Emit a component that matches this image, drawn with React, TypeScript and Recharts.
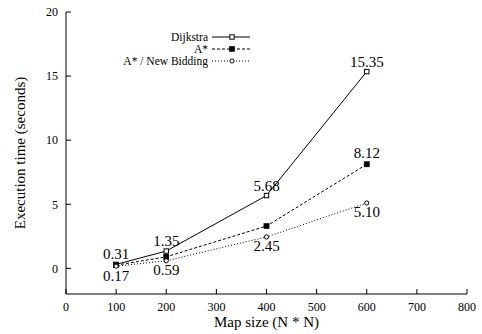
import {
  Label,
  LabelList,
  Legend,
  Line,
  LineChart,
} from 'recharts';
import { XAxis, YAxis } from 'recharts';

const mapSizes = [100, 200, 400, 600];
const dijkstraTimes = [0.31, 1.35, 5.68, 15.35];
const aStarTimes = [0.25, 0.9, 3.3, 8.12];
const newBiddingTimes = [0.17, 0.59, 2.45, 5.1];

const xTicks = [0, 100, 200, 300, 400, 500, 600, 700, 800];
const yTicks = [0, 5, 10, 15, 20];

const SERIF = '"Liberation Serif", "DejaVu Serif", serif';

const data = mapSizes.map((size, i) => ({
  size,
  dijkstra: dijkstraTimes[i],
  aStar: aStarTimes[i],
  newBidding: newBiddingTimes[i],
  aStarLabel: i === mapSizes.length - 1 ? aStarTimes[i] : null,
}));

type Marker = 'openSquare' | 'filledSquare' | 'openCircle';

const drawMarker = (kind: Marker, cx: number, cy: number, key?: string | number) => {
  if (kind === 'openSquare') {
    return <rect key={key} x={cx - 2.2} y={cy - 2.2} width={4.4} height={4.4} fill="#fff" stroke="#000" strokeWidth={1} />;
  }
  if (kind === 'filledSquare') {
    return <rect key={key} x={cx - 2.6} y={cy - 2.6} width={5.2} height={5.2} fill="#000" stroke="#000" strokeWidth={0.5} />;
  }
  return <circle key={key} cx={cx} cy={cy} r={2.1} fill="#fff" stroke="#000" strokeWidth={1} />;
};

const series = [
  { key: 'dijkstra', name: 'Dijkstra', dash: undefined, marker: 'openSquare' as Marker },
  { key: 'aStar', name: 'A*', dash: '3 2', marker: 'filledSquare' as Marker },
  { key: 'newBidding', name: 'A* / New Bidding', dash: '1 2', marker: 'openCircle' as Marker },
];

const makeDot = (kind: Marker) => (props: any) => {
  const { cx, cy, index } = props;
  if (cx == null || cy == null) return <g key={index} />;
  return drawMarker(kind, cx, cy, index);
};

const valueLabel = (below: boolean, gap: number) => (props: any) => {
  const { x, y, value, index } = props;
  if (value == null || x == null || y == null) return <g key={index} />;
  return (
    <text
      key={index}
      x={x}
      y={below ? y + gap : y - gap}
      textAnchor="middle"
      dominantBaseline={below ? 'hanging' : 'auto'}
      fontSize={15}
      style={{ fontFamily: SERIF }}
      fill="#000"
    >
      {Number(value).toFixed(2)}
    </text>
  );
};

const ChartLegend = () => (
  <svg width={160} height={44}>
    {series.map((s, i) => {
      const cy = 9 + i * 12;
      return (
        <g key={s.key}>
          <text x={108} y={cy} textAnchor="end" dominantBaseline="central" fontSize={11.5} style={{ fontFamily: SERIF }} fill="#000">
            {s.name}
          </text>
          <line x1={112} x2={150} y1={cy} y2={cy} stroke="#000" strokeWidth={1} strokeDasharray={s.dash} />
          {drawMarker(s.marker, 132, cy)}
        </g>
      );
    })}
  </svg>
);

const tickStyle = { fontSize: 12, fontFamily: SERIF, fill: '#000' };

export default function App() {
  return (
    <div style={{ position: 'absolute', left: 0, top: 0, background: '#fff' }}>
      <LineChart width={482} height={334} data={data} margin={{ top: 12, right: 15, bottom: 0, left: 0 }}>
        <XAxis
          xAxisId="bottom"
          dataKey="size"
          type="number"
          domain={[0, 800]}
          ticks={xTicks}
          height={40}
          tickSize={-5}
          tickMargin={13}
          tick={tickStyle}
          stroke="#000"
          interval={0}
        >
          <Label
            position="insideBottom"
            offset={7}
            value="Map size (N * N)"
            style={{ fontSize: 15, fontFamily: SERIF, fill: '#000' }}
          />
        </XAxis>
        <XAxis
          xAxisId="top"
          orientation="top"
          dataKey="size"
          type="number"
          domain={[0, 800]}
          ticks={xTicks}
          height={0}
          tickSize={-5}
          tick={false}
          stroke="#000"
          interval={0}
        />
        <YAxis
          yAxisId="left"
          type="number"
          domain={[-2, 20]}
          ticks={yTicks}
          width={66}
          tickSize={-5}
          tickMargin={13}
          tick={tickStyle}
          stroke="#000"
          interval={0}
        >
          <Label
            content={(props: any) => {
              const vb = props.viewBox || {};
              const cx = (vb.x ?? 0) + 20;
              const cy = (vb.y ?? 0) + (vb.height ?? 0) / 2;
              return (
                <text
                  x={cx}
                  y={cy}
                  transform={`rotate(-90 ${cx} ${cy})`}
                  textAnchor="middle"
                  dominantBaseline="central"
                  fontSize={15}
                  style={{ fontFamily: SERIF }}
                  fill="#000"
                >
                  Execution time (seconds)
                </text>
              );
            }}
          />
        </YAxis>
        <YAxis
          yAxisId="right"
          orientation="right"
          type="number"
          domain={[-2, 20]}
          ticks={yTicks}
          width={0}
          tickSize={-5}
          tick={false}
          stroke="#000"
          interval={0}
        />
        <Legend
          layout="vertical"
          align="center"
          verticalAlign="middle"
          wrapperStyle={{ left: 100, top: 28, width: 160, height: 44 }}
          content={() => <ChartLegend />}
        />
        <Line
          xAxisId="bottom"
          yAxisId="left"
          dataKey="dijkstra"
          name="Dijkstra"
          stroke="#000"
          strokeWidth={1}
          dot={makeDot('openSquare')}
          activeDot={false}
          isAnimationActive={false}
        >
          <LabelList dataKey="dijkstra" content={valueLabel(false, 5)} />
        </Line>
        <Line
          xAxisId="bottom"
          yAxisId="left"
          dataKey="aStar"
          name="A*"
          stroke="#000"
          strokeWidth={1}
          strokeDasharray="3 2"
          dot={makeDot('filledSquare')}
          activeDot={false}
          isAnimationActive={false}
        >
          <LabelList dataKey="aStarLabel" content={valueLabel(false, 6)} />
        </Line>
        <Line
          xAxisId="bottom"
          yAxisId="left"
          dataKey="newBidding"
          name="A* / New Bidding"
          stroke="#000"
          strokeWidth={1}
          strokeDasharray="1 2"
          dot={makeDot('openCircle')}
          activeDot={false}
          isAnimationActive={false}
        >
          <LabelList dataKey="newBidding" content={valueLabel(true, 4)} />
        </Line>
      </LineChart>
    </div>
  );
}
